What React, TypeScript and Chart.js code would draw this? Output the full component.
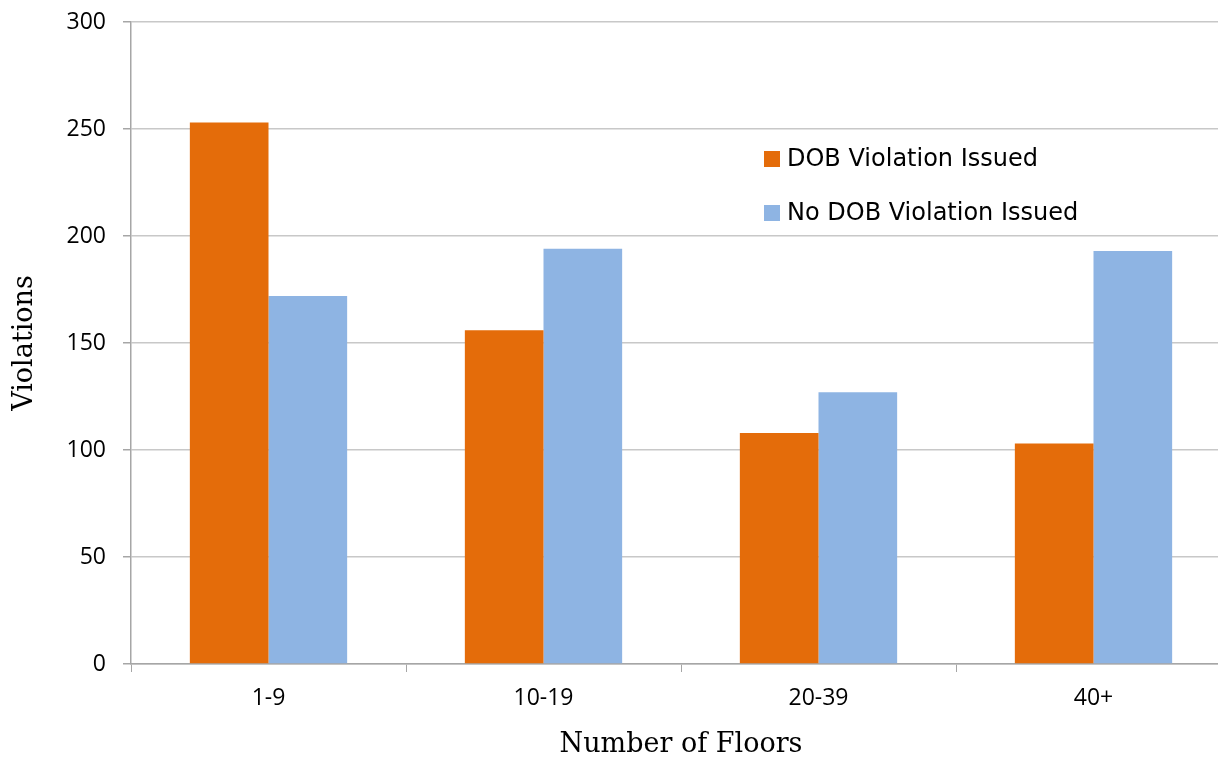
import React, { useEffect, useRef } from "react";
import { Chart, registerables } from "chart.js";

Chart.register(...registerables);

const categories = ["1-9", "10-19", "20-39", "40+"];
const dobIssued = [253, 156, 108, 103];
const noDobIssued = [172, 194, 127, 193];
const seriesLabels = ["DOB Violation Issued", "No DOB Violation Issued"];
const seriesColors = ["#E46C0A", "#8EB4E3"];

const legendPlugin = {
  id: "insideLegend",
  afterDraw(chart: any) {
    const ctx = chart.ctx;
    ctx.save();
    const x0 = 764;
    const y0 = 159;
    const gap = 54;
    chart.data.datasets.forEach((ds: any, i: number) => {
      const cy = y0 + i * gap;
      ctx.fillStyle = ds.backgroundColor;
      ctx.fillRect(x0, cy - 8, 16, 16);
      ctx.fillStyle = "#000";
      ctx.font = '24px "DejaVu Sans"';
      ctx.textBaseline = "middle";
      ctx.textAlign = "left";
      ctx.fillText(ds.label, x0 + 23, cy + 1);
    });
    ctx.restore();
  },
};

export default function App() {
  const ref = useRef<HTMLCanvasElement>(null);
  useEffect(() => {
    if (!ref.current) return;
    const chart = new Chart(ref.current, {
      type: "bar",
      data: {
        labels: categories,
        datasets: [
          { label: seriesLabels[0], data: dobIssued, backgroundColor: seriesColors[0] },
          { label: seriesLabels[1], data: noDobIssued, backgroundColor: seriesColors[1] },
        ],
      },
      options: {
        animation: false,
        responsive: false,
        maintainAspectRatio: false,
        layout: { padding: { top: 22, right: 9, left: 0, bottom: 0 } },
        plugins: { legend: { display: false }, tooltip: { enabled: false } },
        datasets: { bar: { barPercentage: 1, categoryPercentage: 0.572 } },
        scales: {
          x: {
            afterFit(scale: any) {
              scale.height = 97;
              scale.paddingLeft = 0;
              scale.paddingRight = 0;
            },
            grid: {
              display: true,
              drawOnChartArea: false,
              drawTicks: true,
              tickLength: 8,
              color: "#a6a6a6",
              offset: true,
            },
            border: { color: "#a6a6a6", width: 1.5 },
            ticks: {
              color: "#000",
              font: { family: "Open Sans", size: 23 },
              padding: 13,
            },
            title: {
              display: true,
              text: "Number of Floors",
              color: "#000",
              font: { family: "DejaVu Serif", size: 27 },
              padding: 0,
            },
          },
          y: {
            min: 0,
            max: 300,
            afterFit(scale: any) {
              scale.width = 131;
              scale.paddingTop = 0;
              scale.paddingBottom = 0;
            },
            ticks: {
              stepSize: 50,
              color: "#000",
              font: { family: "Open Sans", size: 23 },
              padding: 17,
            },
            grid: {
              color: "#c8c8c8",
              lineWidth: 1.5,
              tickLength: 8,
              tickColor: "#a6a6a6",
            },
            border: { color: "#a6a6a6", width: 1.5 },
            title: {
              display: true,
              text: "Violations",
              color: "#000",
              font: { family: "DejaVu Serif", size: 27 },
              padding: { top: 9, bottom: 0 },
            },
          },
        },
      },
      plugins: [legendPlugin],
    });
    return () => chart.destroy();
  }, []);
  return (
    <div
      style={{
        position: "fixed",
        left: 0,
        top: 0,
        width: 1218,
        height: 761,
        overflow: "hidden",
        background: "#fff",
      }}
    >
      <canvas ref={ref} width={1240} height={761} style={{ width: 1240, height: 761 }} />
    </div>
  );
}
